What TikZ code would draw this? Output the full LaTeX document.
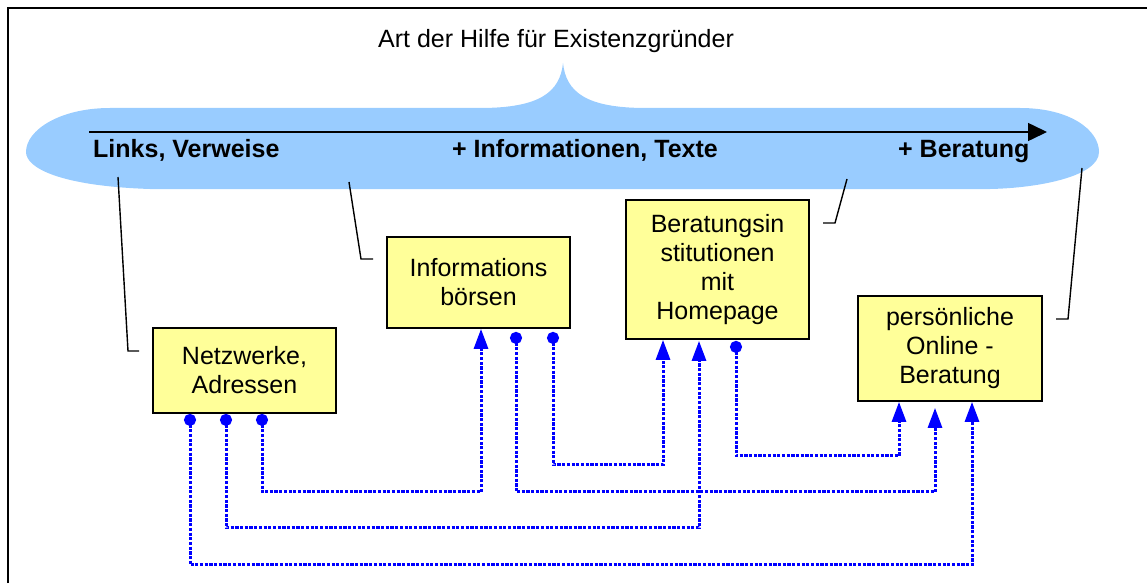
\documentclass[tikz,border=0pt]{standalone}
\usepackage{fontspec}
\setmainfont{Liberation Sans}
\usetikzlibrary{arrows.meta,calc}
\definecolor{blobblue}{RGB}{153,204,255}
\definecolor{boxyellow}{RGB}{255,255,153}
\definecolor{connblue}{RGB}{0,0,255}
\begin{document}
\begin{tikzpicture}[x=1pt,y=-1pt,
  every node/.style={font=\fontsize{25}{29}\selectfont},
  box/.style={draw=black, line width=1.8pt, fill=boxyellow, align=center, inner sep=0pt},
  lbl/.style={anchor=base west, inner sep=0pt, font=\fontsize{25}{29}\selectfont\bfseries},
  callout/.style={draw=black, line width=1.4pt},
  conn/.style={draw=connblue, line width=3pt, dash pattern=on 3.2pt off 1.5pt,
    {Circle[length=12pt,fill=connblue]}-{Triangle[length=20pt,width=14pt,fill=connblue]}}
]
\useasboundingbox (0,0) rectangle (1147,583);
% frame
\draw[line width=2pt] (8,583) -- (8,8) -- (1147,8);
% blob
\fill[blobblue] (110,108) -- (480,108)
  .. controls (540,108) and (560,92) .. (563,63)
  .. controls (566,92) and (586,108) .. (646,108)
  -- (1020,108)
  .. controls (1070,108) and (1099,130) .. (1099,152)
  .. controls (1099,176) and (1040,188) .. (990,189)
  -- (150,189)
  .. controls (60,186) and (26,168) .. (26,152)
  .. controls (26,130) and (60,108) .. (110,108) -- cycle;
% axis arrow
\draw[line width=1.5pt, -{Triangle[length=19pt,width=18pt]}] (89,132) -- (1047,132);
% title and labels
\node[anchor=base west, inner sep=0pt] (title) at (378,48) {Art der Hilfe für Existenzgründer};
\node[lbl] (l1) at (93,157) {Links, Verweise};
\node[lbl] (l2) at (452,157) {+ Informationen, Texte};
\node[lbl] (l3) at (898,157) {+ Beratung};
% boxes
\node[box, minimum width=183pt, minimum height=85pt] (netz) at (244.5,370.5) {Netzwerke,\\Adressen};
\node[box, minimum width=183pt, minimum height=91pt] (info) at (478.5,282.5) {Informations\\börsen};
\node[box, minimum width=183pt, minimum height=139pt] (ber) at (717.5,269.5) {Beratungsin\\stitutionen\\mit\\Homepage};
\node[box, minimum width=184pt, minimum height=105pt] (pers) at (950,348.5) {persönliche\\Online -\\Beratung};
% callouts
\coordinate (c1) at (118,177);
\coordinate (c2) at (349,182);
\coordinate (c3) at (847,179);
\coordinate (c4) at (1082,168);
\draw[callout] (c1) -- (128,351) -- (139,351);
\draw[callout] (c2) -- (361,259) -- (373,259);
\draw[callout] (c3) -- (835,223) -- (823,223);
\draw[callout] (c4) -- (1068,319) -- (1056,319);
% connectors
\draw[conn] ([xshift=17.5pt]netz.south) -- ++(0,78) -| ([xshift=2.5pt]info.south);
\draw[conn] ([xshift=-18.5pt]netz.south) -- ++(0,114) -| ([xshift=-18.5pt,yshift=-1pt]ber.south);
\draw[conn] ([xshift=-54.5pt]netz.south) -- ++(0,151) -| ([xshift=22pt]pers.south);
\draw[conn] ([xshift=37.5pt,yshift=-3pt]info.south) -- ++(0,160) -| ([xshift=-15pt,yshift=-6pt]pers.south);
\draw[conn] ([xshift=74.5pt,yshift=-3pt]info.south) -- ++(0,133) -| ([xshift=-54.5pt]ber.south);
\draw[conn] ([xshift=18.5pt,yshift=-1pt]ber.south) -- ++(0,115) -| ([xshift=-51pt]pers.south);
\end{tikzpicture}
\end{document}
